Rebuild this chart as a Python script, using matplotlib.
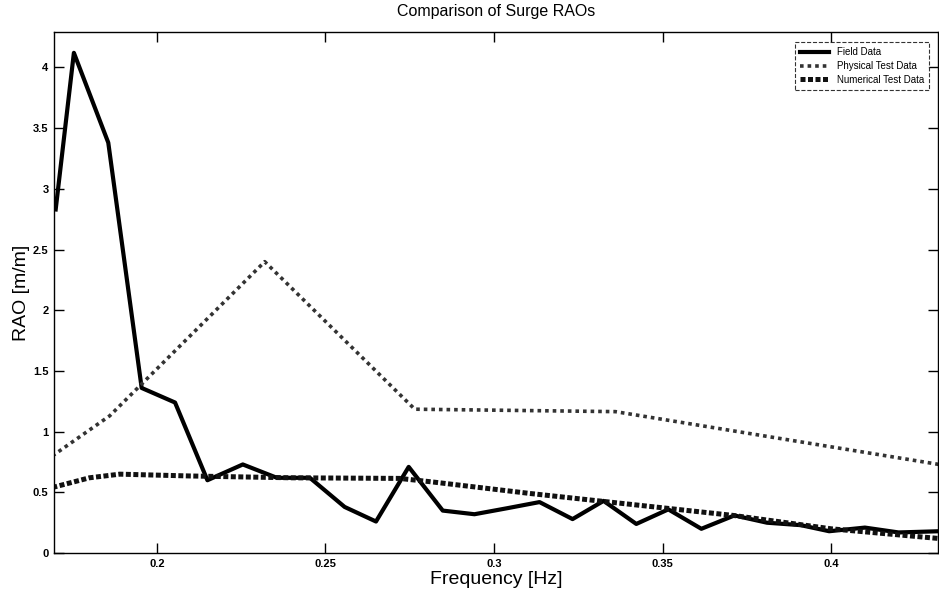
import matplotlib
matplotlib.use('Agg')
from matplotlib import pyplot as plt

# field data (solid line)
field_f = [0.1700, 0.1754, 0.1856, 0.1955, 0.2054, 0.2150, 0.2255, 0.2356, 0.2454,
           0.2557, 0.2650, 0.2747, 0.2848, 0.2942, 0.3040, 0.3135, 0.3233, 0.3325,
           0.3422, 0.3517, 0.3615, 0.3713, 0.3810, 0.3910, 0.3994, 0.4100, 0.4200, 0.4320]
field_rao = [2.83, 4.12, 3.38, 1.36, 1.24, 0.60, 0.73, 0.62, 0.62,
             0.38, 0.26, 0.71, 0.35, 0.32, 0.37, 0.42, 0.28, 0.43,
             0.24, 0.36, 0.20, 0.31, 0.25, 0.23, 0.18, 0.21, 0.17, 0.18]

# physical test data
phys_f = [0.1690, 0.1860, 0.2320, 0.2765, 0.3360, 0.4320]
phys_rao = [0.80, 1.13, 2.40, 1.185, 1.165, 0.73]

# numerical test data
num_f = [0.1690, 0.1800, 0.1890, 0.2100, 0.2400, 0.2720, 0.2820, 0.3110,
         0.3410, 0.3710, 0.4000, 0.4320]
num_rao = [0.54, 0.62, 0.65, 0.635, 0.62, 0.615, 0.585, 0.49,
           0.40, 0.31, 0.20, 0.12]

plt.rcParams['font.family'] = ['Liberation Sans', 'DejaVu Sans']

fig = plt.figure(figsize=(9.39, 5.96), dpi=100)
ax = fig.add_axes([0.0575, 0.072, 0.9415, 0.874])

ax.plot(field_f, field_rao, color='black', linewidth=3, label='Field Data')
ax.plot(phys_f, phys_rao, color='#333333', linewidth=2.6, linestyle=(0, (1, 1.1)),
        label='Physical Test Data')
ax.plot(num_f, num_rao, color='#111111', linewidth=3.6, linestyle=(0, (1, 0.5)),
        label='Numerical Test Data')

ax.set_xlim(0.1695, 0.4317)
ax.set_ylim(0, 4.29)
ax.set_xticks([0.2, 0.25, 0.3, 0.35, 0.4])
ax.set_xticklabels(['0.2', '0.25', '0.3', '0.35', '0.4'])
ax.set_yticks([0, 0.5, 1, 1.5, 2, 2.5, 3, 3.5, 4])
ax.set_yticklabels(['0', '0.5', '1', '1.5', '2', '2.5', '3', '3.5', '4'])
ax.tick_params(direction='in', top=True, right=True, length=7, width=1,
               labelsize=8, pad=4)
for t in ax.get_xticklabels() + ax.get_yticklabels():
    t.set_fontweight('bold')

ax.set_title('Comparison of Surge RAOs', fontsize=11.5, pad=12)
ax.set_xlabel('Frequency [Hz]', fontsize=14, labelpad=2)
ax.set_ylabel('RAO [m/m]', fontsize=14)
ax.yaxis.set_label_coords(-0.027, 0.5)

leg = ax.legend(loc='upper right', fontsize=7, frameon=True, fancybox=False,
                edgecolor='black', handlelength=3, borderpad=0.5,
                labelspacing=0.4, bbox_to_anchor=(0.995, 0.99))
leg.get_frame().set_linewidth(0.8)
leg.get_frame().set_linestyle('--')

for s in ax.spines.values():
    s.set_linewidth(1)

plt.savefig('out.png', dpi=100)
